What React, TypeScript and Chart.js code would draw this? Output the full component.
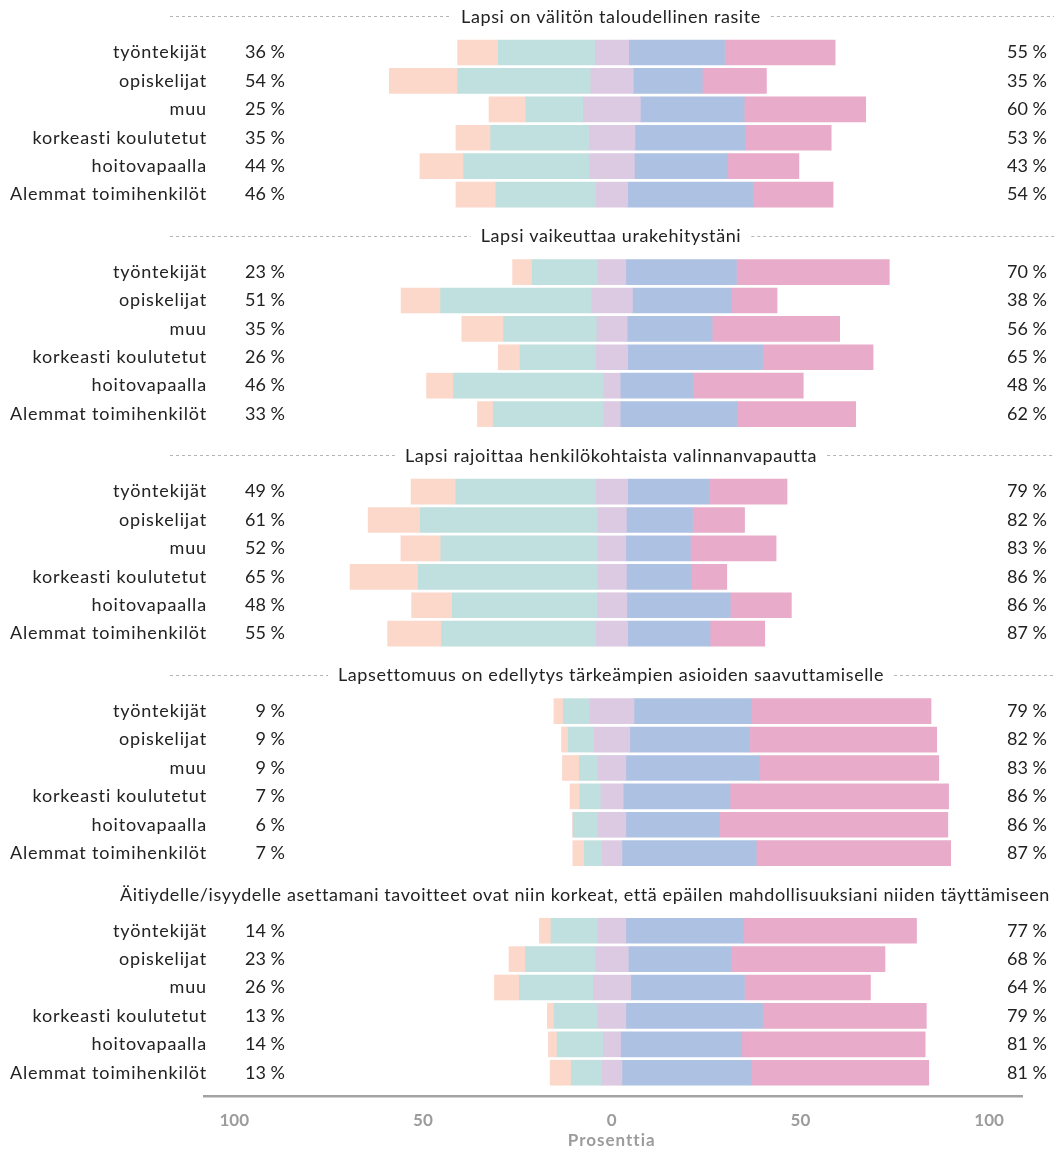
import React, { useEffect, useRef } from "react";
import { Chart, registerables } from "chart.js";

Chart.register(...registerables);

const PANEL_TITLES = [
  "Lapsi on välitön taloudellinen rasite",
  "Lapsi vaikeuttaa urakehitystäni",
  "Lapsi rajoittaa henkilökohtaista valinnanvapautta",
  "Lapsettomuus on edellytys tärkeämpien asioiden saavuttamiselle",
  "Äitiydelle/isyydelle asettamani tavoitteet ovat niin korkeat, että epäilen mahdollisuuksiani niiden täyttämiseen",
];

const GROUPS = [
  "työntekijät",
  "opiskelijat",
  "muu",
  "korkeasti koulutetut",
  "hoitovapaalla",
  "Alemmat toimihenkilöt",
];

// One inner list per panel, one value per group (percent)
const STRONGLY_DISAGREE = [
  [10.6, 17.9, 9.6, 9.0, 11.4, 10.4],
  [5.0, 10.3, 10.9, 5.6, 7.0, 4.0],
  [11.7, 13.6, 10.4, 17.9, 10.6, 14.1],
  [2.3, 1.6, 4.3, 2.4, 0, 2.9],
  [2.9, 4.2, 6.4, 1.6, 2.1, 5.4],
];
const DISAGREE = [
  [25.7, 35.3, 15.3, 26.1, 33.4, 26.6],
  [17.5, 40.0, 24.7, 20.2, 39.8, 29.3],
  [37.2, 47.0, 41.7, 47.5, 38.4, 41.0],
  [7.1, 6.9, 5.0, 5.6, 6.6, 4.7],
  [12.5, 18.6, 19.6, 11.7, 12.3, 8.2],
];
const NEUTRAL = [
  [9.0, 11.4, 15.2, 12.3, 12.0, 8.5],
  [7.5, 11.0, 8.2, 8.5, 4.5, 4.5],
  [8.5, 7.8, 7.5, 7.8, 8.0, 8.5],
  [11.8, 9.6, 7.5, 6.1, 7.5, 5.4],
  [7.5, 8.8, 10.1, 7.5, 4.7, 5.4],
];
const AGREE = [
  [25.4, 18.3, 27.5, 29.1, 24.7, 33.3],
  [29.3, 26.3, 22.5, 35.7, 19.2, 30.9],
  [21.6, 17.5, 17.1, 17.1, 27.4, 21.8],
  [31.2, 31.6, 35.4, 28.3, 24.7, 35.6],
  [31.2, 27.3, 30.1, 36.2, 32.1, 34.3],
];
const STRONGLY_AGREE = [
  [29.3, 17.0, 32.2, 22.9, 18.9, 21.1],
  [40.5, 12.0, 33.8, 29.3, 29.3, 31.5],
  [20.6, 13.8, 22.7, 9.5, 16.2, 14.5],
  [47.5, 49.7, 47.5, 57.9, 60.6, 51.5],
  [45.8, 40.7, 33.4, 43.4, 48.6, 47.0],
];

const LEFT_LABELS = [
  [36, 54, 25, 35, 44, 46],
  [23, 51, 35, 26, 46, 33],
  [49, 61, 52, 65, 48, 55],
  [9, 9, 9, 7, 6, 7],
  [14, 23, 26, 13, 14, 13],
];
const RIGHT_LABELS = [
  [55, 35, 60, 53, 43, 54],
  [70, 38, 56, 65, 48, 62],
  [79, 82, 83, 86, 86, 87],
  [79, 82, 83, 86, 86, 87],
  [77, 68, 64, 79, 81, 81],
];

const X_TICKS = [-100, -50, 0, 50, 100];
const AXIS_TITLE = "Prosenttia";

const COLORS = {
  sd: "#fcd8cb",
  d: "#bfe0de",
  n: "#dcc9e2",
  a: "#adc2e3",
  sa: "#e8abc9",
};

const FONT = "Lato, 'Open Sans', sans-serif";
const PANEL_STEP = 7.73;
const TITLE_OFFSET = -1.25;
const pos = (p: number, r: number) => p * PANEL_STEP + r;

function buildDatasets() {
  const sd: any[] = [], d: any[] = [], n: any[] = [], a: any[] = [], sa: any[] = [];
  STRONGLY_DISAGREE.forEach((panel, p) => {
    panel.forEach((_, r) => {
      const half = NEUTRAL[p][r] / 2;
      const t = DISAGREE[p][r];
      const s = STRONGLY_DISAGREE[p][r];
      const ag = AGREE[p][r];
      const k = STRONGLY_AGREE[p][r];
      const y = pos(p, r);
      sd.push({ x: [-(half + t + s), -(half + t)], y });
      d.push({ x: [-(half + t), -half], y });
      n.push({ x: [-half, half], y });
      a.push({ x: [half, half + ag], y });
      sa.push({ x: [half + ag, half + ag + k], y });
    });
  });
  const mk = (label: string, data: any[], color: string) => ({
    label,
    data,
    backgroundColor: color,
    borderWidth: 0,
    barThickness: 25,
    grouped: false,
  });
  return [
    mk("Täysin eri mieltä", sd, COLORS.sd),
    mk("Jokseenkin eri mieltä", d, COLORS.d),
    mk("Ei samaa eikä eri mieltä", n, COLORS.n),
    mk("Jokseenkin samaa mieltä", a, COLORS.a),
    mk("Täysin samaa mieltä", sa, COLORS.sa),
  ];
}

const textPlugin = {
  id: "panelTexts",
  afterDatasetsDraw(chart: any) {
    const ctx = chart.ctx as any;
    const yS = chart.scales.y;
    const xS = chart.scales.x;
    ctx.save();
    ctx.fillStyle = "#222222";
    ctx.textBaseline = "middle";
    PANEL_TITLES.forEach((title, p) => {
      GROUPS.forEach((g, r) => {
        const py = yS.getPixelForValue(pos(p, r));
        ctx.textAlign = "right";
        ctx.font = `18px ${FONT}`;
        ctx.letterSpacing = "0.85px";
        ctx.fillText(g, 207, py);
        ctx.letterSpacing = "0px";
        ctx.fillText(`${LEFT_LABELS[p][r]} %`, 285, py);
        ctx.fillText(`${RIGHT_LABELS[p][r]} %`, 1047, py);
      });
      const ty = yS.getPixelForValue(pos(p, TITLE_OFFSET));
      ctx.font = `18px ${FONT}`;
      ctx.letterSpacing = "0.6px";
      const w = ctx.measureText(title).width;
      const cx = Math.min(611, 1050 - w / 2);
      ctx.textAlign = "center";
      ctx.fillText(title, cx, ty);
      ctx.letterSpacing = "0px";
      ctx.save();
      ctx.strokeStyle = "#b5b5b5";
      ctx.lineWidth = 1;
      ctx.setLineDash([3, 3]);
      const l1 = cx - w / 2 - 10;
      const r1 = cx + w / 2 + 10;
      const ly = Math.round(ty) - 0.5;
      if (l1 > 170) {
        ctx.beginPath();
        ctx.moveTo(170, ly);
        ctx.lineTo(l1, ly);
        ctx.stroke();
      }
      if (r1 < 1054) {
        ctx.beginPath();
        ctx.moveTo(r1, ly);
        ctx.lineTo(1054, ly);
        ctx.stroke();
      }
      ctx.restore();
    });
    // axis title
    ctx.fillStyle = "#9c9c9c";
    ctx.font = `bold 17px ${FONT}`;
    ctx.letterSpacing = "1px";
    ctx.textAlign = "center";
    ctx.fillText(AXIS_TITLE, xS.getPixelForValue(0), xS.bottom - 12);
    ctx.letterSpacing = "0px";
    ctx.restore();
  },
};

export default function App() {
  const ref = useRef<HTMLCanvasElement | null>(null);
  useEffect(() => {
    if (!ref.current) return;
    const chart = new Chart(ref.current, {
      type: "bar",
      data: { datasets: buildDatasets() as any },
      options: {
        indexAxis: "y",
        responsive: false,
        animation: false,
        devicePixelRatio: 1,
        layout: { padding: { left: 204, right: 36, top: 0, bottom: 0 } },
        plugins: {
          legend: { display: false },
          tooltip: { enabled: false },
          title: { display: false },
        },
        scales: {
          y: {
            type: "linear",
            display: false,
            offset: false,
            grace: 0,
            reverse: true,
            min: -1.85,
            max: 36.74,
          },
          x: {
            type: "linear",
            min: -108,
            max: 108.7,
            offset: false,
            grid: { display: false, drawTicks: false },
            border: { display: true, color: "#a3a3a3", width: 2.5 },
            afterBuildTicks: (s: any) => {
              s.ticks = X_TICKS.map((v) => ({ value: v }));
            },
            afterFit: (s: any) => {
              s.height = 57;
            },
            ticks: {
              callback: (v: any) => String(Math.abs(Number(v))),
              color: "#9c9c9c",
              font: { family: FONT, size: 17, weight: "bold" },
              padding: 14,
              maxRotation: 0,
              autoSkip: false,
            },
            title: { display: false },
          },
        },
      } as any,
      plugins: [textPlugin],
    });
    return () => chart.destroy();
  }, []);
  return (
    <canvas
      ref={ref}
      width={1058}
      height={1153}
      style={{ position: "absolute", left: 0, top: 0, width: 1058, height: 1153 }}
    />
  );
}
